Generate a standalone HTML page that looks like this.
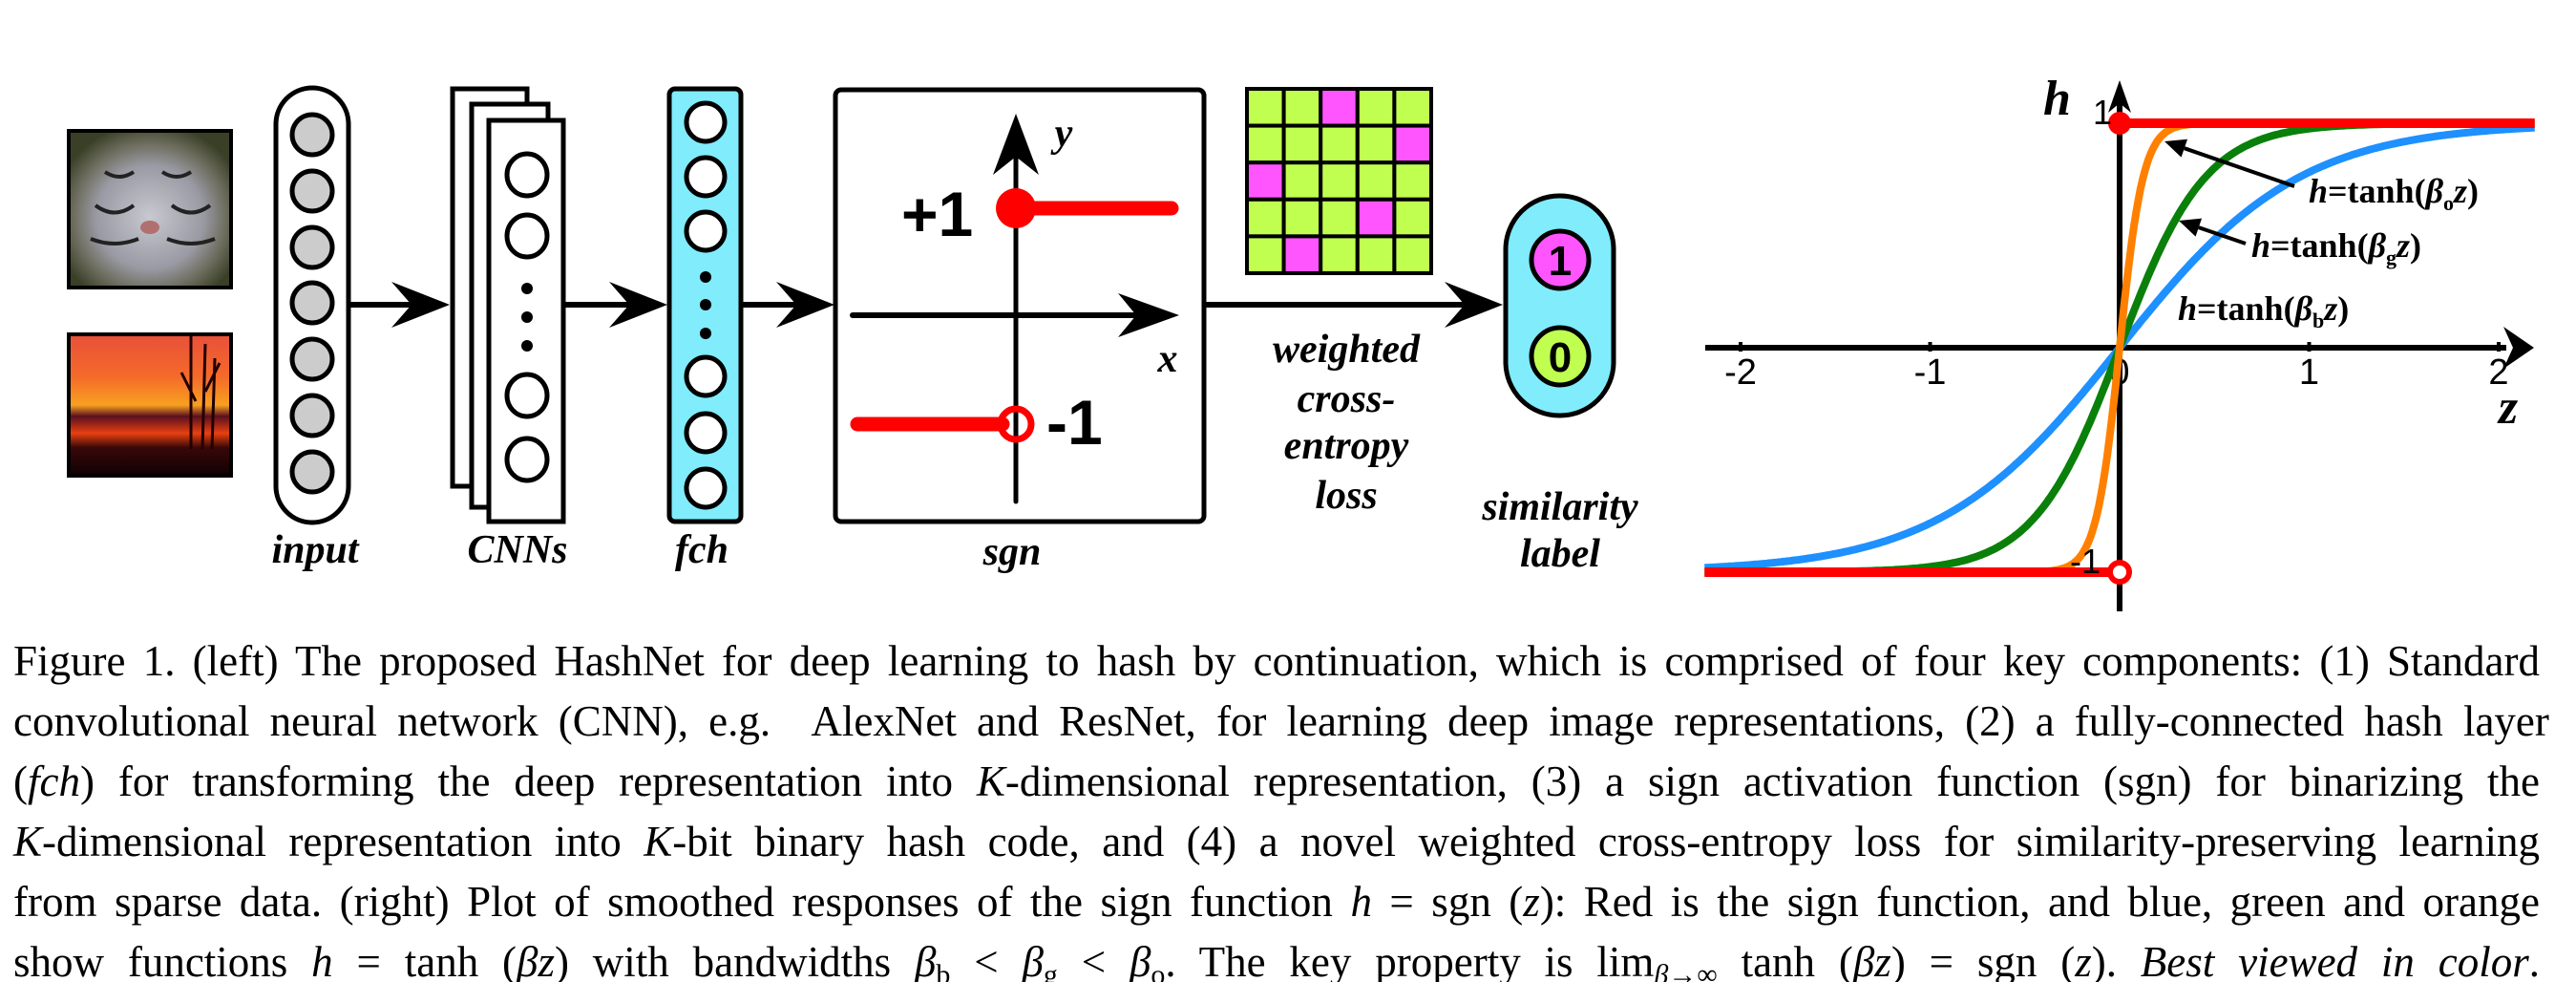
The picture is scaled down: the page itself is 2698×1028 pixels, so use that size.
<!DOCTYPE html>
<html><head><meta charset="utf-8">
<style>
html,body{margin:0;padding:0;background:#fff;}
#root{position:relative;width:2698px;height:1028px;overflow:hidden;background:#fff;}
svg{position:absolute;left:0;top:0;}
.lbl{font-family:"Liberation Serif",serif;font-weight:bold;font-style:italic;font-size:42px;fill:#000;}
.cap{position:absolute;left:14px;width:2646px;font-family:"Liberation Serif",serif;font-size:45px;line-height:63px;color:#000;}
.cap div{white-space:nowrap;height:63px;}
.cap i{font-style:italic;}
sub{font-size:30px;line-height:0;vertical-align:-8px;}
</style></head>
<body>
<div id="root">
<svg width="2698" height="1028" viewBox="0 0 2698 1028">
<defs>
<linearGradient id="sunset" x1="0" y1="0" x2="0" y2="1">
<stop offset="0" stop-color="#e8503a"/><stop offset="0.3" stop-color="#f46a2a"/><stop offset="0.5" stop-color="#f8a020"/>
<stop offset="0.58" stop-color="#5a1020"/><stop offset="0.7" stop-color="#e84010"/><stop offset="0.8" stop-color="#3a0808"/><stop offset="1" stop-color="#100004"/>
</linearGradient>
<radialGradient id="tiger" cx="0.5" cy="0.55" r="0.6">
<stop offset="0" stop-color="#c8c8d0"/><stop offset="0.55" stop-color="#9a9aa4"/><stop offset="0.8" stop-color="#6a6a5a"/><stop offset="1" stop-color="#3a4028"/>
</radialGradient>
</defs>
<g>
<rect x="72" y="137" width="170" height="164" fill="url(#tiger)" stroke="#000" stroke-width="4"/>
<path d="M110 180 q15 10 30 0 M170 180 q15 10 30 0 M100 215 q20 15 40 0 M180 215 q20 15 40 0 M95 250 q25 10 50 0 M175 250 q25 10 50 0" stroke="#222" stroke-width="4" fill="none"/>
<ellipse cx="157" cy="238" rx="10" ry="7" fill="#b07070"/>
</g>
<g>
<rect x="72" y="350" width="170" height="148" fill="url(#sunset)" stroke="#000" stroke-width="4"/>
<path d="M200 352 L200 470 M215 360 L212 470 M225 375 L222 470 M190 390 L205 420 M230 380 L215 410" stroke="#200" stroke-width="3"/>
</g>
<g>
<rect x="289" y="92" width="76" height="455" rx="38" fill="#fff" stroke="#000" stroke-width="5"/>
<g id="inputCircles"></g>
</g>
<g id="arrows"></g>
<g stroke="#000" stroke-width="5" fill="#fff">
<rect x="474" y="93" width="78" height="416"/>
<rect x="494" y="109" width="80" height="422"/>
<rect x="512" y="126" width="78" height="420"/>
</g>
<g id="cnnCircles"></g>
<g>
<rect x="701" y="93" width="75" height="453" rx="6" fill="#80ecfc" stroke="#000" stroke-width="5"/>
<g id="fchCircles"></g>
</g>
<g>
<rect x="875" y="94" width="386" height="452" rx="6" fill="#fff" stroke="#000" stroke-width="5"/>
<line x1="1064" y1="140" x2="1064" y2="525" stroke="#000" stroke-width="5" stroke-linecap="round"/>
<line x1="893" y1="330" x2="1200" y2="330" stroke="#000" stroke-width="6" stroke-linecap="round"/>
<polygon points="1235,330 1171,307 1190,330 1171,353" fill="#000"/>
<polygon points="1064,119 1040,183 1064,164 1088,183" fill="#000"/>
<text x="1114" y="153" class="lbl" font-size="46" text-anchor="middle">y</text>
<text x="1223" y="389" class="lbl" font-size="48" text-anchor="middle">x</text>
<line x1="1064" y1="218" x2="1227" y2="218" stroke="#f00" stroke-width="15" stroke-linecap="round"/>
<circle cx="1064" cy="218" r="21" fill="#f00"/>
<line x1="898" y1="444" x2="1050" y2="444" stroke="#f00" stroke-width="15" stroke-linecap="round"/>
<circle cx="1064" cy="444" r="16" fill="none" stroke="#f00" stroke-width="7"/>
<text x="944" y="247" font-family="Liberation Sans,sans-serif" font-weight="bold" font-size="66">+1</text>
<text x="1096" y="465" font-family="Liberation Sans,sans-serif" font-weight="bold" font-size="66">-1</text>
</g>
<g id="matrix"></g>
<g>
<rect x="1577" y="205" width="113" height="230" rx="56" fill="#80ecfc" stroke="#000" stroke-width="5"/>
<circle cx="1634" cy="272" r="30" fill="#ff55ff" stroke="#000" stroke-width="5"/>
<text x="1634" y="288" text-anchor="middle" font-family="Liberation Sans,sans-serif" font-weight="bold" font-size="44">1</text>
<circle cx="1634" cy="373" r="30" fill="#c0ff50" stroke="#000" stroke-width="5"/>
<text x="1634" y="389" text-anchor="middle" font-family="Liberation Sans,sans-serif" font-weight="bold" font-size="44">0</text>
</g>
<text x="330" y="589" class="lbl" text-anchor="middle">input</text>
<text x="542" y="589" class="lbl" text-anchor="middle">CNNs</text>
<text x="735" y="589" class="lbl" text-anchor="middle">fch</text>
<text x="1060" y="591" class="lbl" text-anchor="middle">sgn</text>
<g class="lbl" text-anchor="middle">
<text x="1410" y="379" class="lbl">weighted</text>
<text x="1410" y="431" class="lbl">cross-</text>
<text x="1410" y="480" class="lbl">entropy</text>
<text x="1410" y="532" class="lbl">loss</text>
</g>
<text x="1634" y="544" class="lbl" text-anchor="middle">similarity</text>
<text x="1634" y="593" class="lbl" text-anchor="middle">label</text>
<g id="chart"></g>
</svg>

<div class="cap" id="cap" style="top:661px">
<div>Figure 1. (left) The proposed HashNet for deep learning to hash by continuation, which is comprised of four key components: (1) Standard</div>
<div>convolutional neural network (CNN), e.g. &nbsp;AlexNet and ResNet, for learning deep image representations, (2) a fully-connected hash layer</div>
<div>(<i>fch</i>) for transforming the deep representation into <i>K</i>-dimensional representation, (3) a sign activation function (sgn) for binarizing the</div>
<div><i>K</i>-dimensional representation into <i>K</i>-bit binary hash code, and (4) a novel weighted cross-entropy loss for similarity-preserving learning</div>
<div>from sparse data. (right) Plot of smoothed responses of the sign function <i>h</i> = sgn (<i>z</i>): Red is the sign function, and blue, green and orange</div>
<div>show functions <i>h</i> = tanh (<i>βz</i>) with bandwidths <i>β</i><sub>b</sub> &lt; <i>β</i><sub>g</sub> &lt; <i>β</i><sub>o</sub>. The key property is lim<sub><i>β</i>→∞</sub> tanh (<i>βz</i>) = sgn (<i>z</i>). <i>Best viewed in color</i>.</div>
</div>
</div>

<script>
var NS="http://www.w3.org/2000/svg";
// chart data
var xTicks=[-2,-1,0,1,2];
var xTickLabels=["-2","-1","0","1","2"];
var seriesNames=["blue","green","orange"];
var seriesBetas=[1.05,2.2,8];
var seriesColors=["#1e90ff","#0a800a","#ff8000"];
var signLevels=[-1,1];
var matrixMask=[[0,0,1,0,0],[0,0,0,0,1],[1,0,0,0,0],[0,0,0,1,0],[0,1,0,0,0]];

function mk(tag,attrs,parent){var e=document.createElementNS(NS,tag);for(var k in attrs)e.setAttribute(k,attrs[k]);parent.appendChild(e);return e;}

var ic=document.getElementById('inputCircles');
[141,200,259,317,376,435,494].forEach(function(cy){
  var c=mk('circle',{cx:327,cy:cy,r:21,fill:'#ccc',stroke:'#000','stroke-width':5},ic);
  
  
});
var cc=document.getElementById('cnnCircles');
[183,247,414,481].forEach(function(cy){
  var c=mk('ellipse',{cx:552,cy:cy,rx:21,ry:22,fill:'#fff',stroke:'#000','stroke-width':5},cc);
  
  
});
[302,332,362].forEach(function(cy){mk('circle',{cx:552,cy:cy,r:6,fill:'#000'},cc);});
var fc=document.getElementById('fchCircles');
[128,185,242,394,453,511].forEach(function(cy){
  var c=mk('circle',{cx:739,cy:cy,r:20,fill:'#fff',stroke:'#000','stroke-width':5},fc);
  
  
});
[290,319,349].forEach(function(cy){mk('circle',{cx:739,cy:cy,r:6,fill:'#000'},fc);});

var ag=document.getElementById('arrows');
[[366,471],[591,699],[777,874],[1263,1574]].forEach(function(a){
  var g=mk('g',{},ag);
  
  
  mk('line',{x1:a[0],y1:319,x2:a[1]-30,y2:319,stroke:'#000','stroke-width':6},g);
  var t=a[1];
  mk('polygon',{points:t+',319 '+(t-61)+',295 '+(t-40)+',319 '+(t-61)+',343',fill:'#000'},g);
});

var mg=document.getElementById('matrix');
var mx0=1306,my0=93,cw=38.6,ch=38.6;
matrixMask.forEach(function(row,r){row.forEach(function(v,c){
  var rc=mk('rect',{x:mx0+c*cw,y:my0+r*ch,width:cw,height:ch,fill:v?'#ff55ff':'#c0ff50',stroke:'#000','stroke-width':4},mg);
  
  
});});

var ch2=document.getElementById('chart');
var X0=2220,Y0=364,UX=198.5,UY=235;
function sx(z){return X0+z*UX;}
function sy(h){return Y0-h*UY;}
var zMin=-2.19,zMax=2.19;
var xa=mk('line',{x1:1786,y1:Y0,x2:2625,y2:Y0,stroke:'#000','stroke-width':6},ch2);


mk('polygon',{points:'2654,'+Y0+' 2622,'+(Y0-22)+' 2632,'+Y0+' 2622,'+(Y0+22),fill:'#000'},ch2);
var ya=mk('line',{x1:X0,y1:100,x2:X0,y2:640,stroke:'#000','stroke-width':6},ch2);


mk('polygon',{points:X0+',84 '+(X0-12)+',118 '+X0+',108 '+(X0+12)+',118',fill:'#000'},ch2);
xTicks.forEach(function(t,i){
  mk('line',{x1:sx(t),y1:Y0-6,x2:sx(t),y2:Y0+4,stroke:'#000','stroke-width':4},ch2);
  var tx=mk('text',{x:sx(t),y:402,'text-anchor':'middle','font-family':'Liberation Sans,sans-serif','font-size':38},ch2);
  tx.textContent=xTickLabels[i];
  
  
});
seriesBetas.forEach(function(b,i){
  var d='';
  for(var k=0;k<=400;k++){var z=zMin+(zMax-zMin)*k/400;var h=Math.tanh(b*z);d+=(k?'L':'M')+sx(z).toFixed(1)+' '+sy(h).toFixed(1);}
  var p=mk('path',{d:d,fill:'none',stroke:seriesColors[i],'stroke-width':8},ch2);
  
  
});
var s1=mk('line',{x1:X0,y1:sy(signLevels[1]),x2:sx(zMax),y2:sy(signLevels[1]),stroke:'#f00','stroke-width':10},ch2);


var s2=mk('line',{x1:sx(zMin),y1:sy(signLevels[0]),x2:X0-10,y2:sy(signLevels[0]),stroke:'#f00','stroke-width':10},ch2);


var d1=mk('circle',{cx:X0,cy:sy(signLevels[1]),r:12,fill:'#f00'},ch2);


var d2=mk('circle',{cx:X0,cy:sy(signLevels[0]),r:10,fill:'#fff',stroke:'#f00','stroke-width':6},ch2);


function txt(x,y,s,attrs,name){var t=mk('text',Object.assign({x:x,y:y},attrs),ch2);t.innerHTML=s;return t;}
txt(2140,120,'h',{'font-family':'Liberation Serif,serif','font-weight':'bold','font-style':'italic','font-size':52},'y-axis-title');
txt(2627,443,'z',{'font-family':'Liberation Serif,serif','font-weight':'bold','font-style':'italic','font-size':52,'text-anchor':'middle'},'x-axis-title');
txt(2192,130,'1',{'font-family':'Liberation Sans,sans-serif','font-size':36},'y-tick-1');
txt(2168,600,'-1',{'font-family':'Liberation Sans,sans-serif','font-size':36},'y-tick-minus1');
var af={'font-family':'Liberation Serif,serif','font-weight':'bold','font-size':36};
txt(2418,212,'<tspan font-style="italic">h</tspan>=tanh(<tspan font-style="italic">β</tspan><tspan font-size="22" dy="8">o</tspan><tspan font-style="italic" dy="-8">z</tspan>)',af,'annotation-orange');
txt(2358,269,'<tspan font-style="italic">h</tspan>=tanh(<tspan font-style="italic">β</tspan><tspan font-size="22" dy="8">g</tspan><tspan font-style="italic" dy="-8">z</tspan>)',af,'annotation-green');
txt(2281,335,'<tspan font-style="italic">h</tspan>=tanh(<tspan font-style="italic">β</tspan><tspan font-size="22" dy="8">b</tspan><tspan font-style="italic" dy="-8">z</tspan>)',af,'annotation-blue');
function arrow(x1,y1,x2,y2,name){
  var g=mk('g',{},ch2);
  
  
  var ang=Math.atan2(y2-y1,x2-x1),L=22,W=10;
  var bx=x2-L*Math.cos(ang),by=y2-L*Math.sin(ang);
  mk('line',{x1:x1,y1:y1,x2:bx,y2:by,stroke:'#000','stroke-width':4},g);
  mk('polygon',{points:x2+','+y2+' '+(bx+W*Math.sin(ang))+','+(by-W*Math.cos(ang))+' '+(bx-W*Math.sin(ang))+','+(by+W*Math.cos(ang)),fill:'#000'},g);
}
arrow(2403,195,2267,148,'arrow-orange');
arrow(2352,255,2282,231,'arrow-green');

// justify caption lines
var W=2646;
Array.prototype.forEach.call(document.querySelectorAll('#cap div'),function(d){
  d.style.display='inline-block';
  var w=d.getBoundingClientRect().width;
  var n=(d.textContent.match(/ /g)||[]).length;
  if(w>W){d.style.letterSpacing=((W-w)/d.textContent.length)+'px';w=d.getBoundingClientRect().width;}
  if(n>0&&w<W){d.style.wordSpacing=((W-w)/n)+'px';}
  d.style.display='block';
});
</script>
</body></html>
